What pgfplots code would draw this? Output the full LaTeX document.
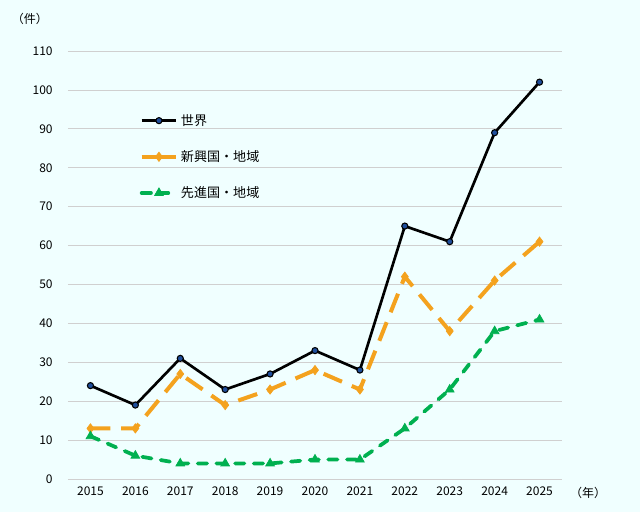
\documentclass[border=0pt]{standalone}
\usepackage{fontspec}
\setmainfont{Noto Sans CJK JP}
\usepackage{pgfplots}
\pgfplotsset{compat=1.18}
\definecolor{bg}{HTML}{F0FFFF}
\definecolor{gridc}{HTML}{D0D0D0}
\definecolor{orangec}{HTML}{F4A21E}
\definecolor{greenc}{HTML}{00B050}
\definecolor{bluec}{HTML}{1F4E9B}
\begin{document}
\begin{tikzpicture}
\fill[bg] (0pt,0pt) rectangle (480pt,384pt);
\begin{axis}[
  at={(51pt,24.75pt)}, anchor=south west,
  scale only axis, width=370.5pt, height=321pt,
  xmin=2014.5, xmax=2025.5, ymin=0, ymax=110,
  xtick={2015,...,2025}, ytick={0,10,...,110},
  xticklabel style={/pgf/number format/1000 sep={}},
  /pgf/number format/assume math mode=true,
  axis line style={draw=none},
  major tick length=0pt,
  ymajorgrids, grid style={gridc, line width=0.6pt},
  tick label style={font=\fontsize{9}{10}\selectfont},
  yticklabel style={xshift=-8pt},
  xticklabel style={yshift=-2pt},
  clip=false,
  legend style={at={(axis cs:2016,95.2)}, anchor=north west, draw=none, fill=none,
    font=\fontsize{9.8}{10}\selectfont, row sep=13.4pt,
    /tikz/every even column/.append style={column sep=0pt}},
  legend cell align=left,
  legend image code/.code={\draw[#1] (0pt,0pt) -- (13pt,0pt) (13pt,0pt) -- (26pt,0pt); \path[#1,solid] plot coordinates {(13pt,0pt)};},
]
\addplot[black, line width=2pt, mark=*, mark size=2.3pt, mark options={fill=bluec, draw=black, line width=0.8pt}]
coordinates {(2015,24)(2016,19)(2017,31)(2018,23)(2019,27)(2020,33)(2021,28)(2022,65)(2023,61)(2024,89)(2025,102)};
\addlegendentry{世界}
\addplot[orangec, line width=3pt, dash pattern=on 15pt off 8pt, mark=diamond*, mark size=3.5pt, mark options={solid, line width=0.5pt}]
coordinates {(2015,13)(2016,13)(2017,27)(2018,19)(2019,23)(2020,28)(2021,23)(2022,52)(2023,38)(2024,51)(2025,61)};
\addlegendentry{新興国・地域}
\addplot[greenc, line width=2.8pt, line cap=round, dash pattern=on 7pt off 7pt, mark=triangle*, mark size=3.8pt, mark options={solid, line width=0.5pt}]
coordinates {(2015,11)(2016,6)(2017,4)(2018,4)(2019,4)(2020,5)(2021,5)(2022,13)(2023,23)(2024,38)(2025,41)};
\addlegendentry{先進国・地域}
\end{axis}
\node[font=\fontsize{9}{10}\selectfont] at (22.5pt,370pt) {（件）};
\node[font=\fontsize{9}{10}\selectfont] at (441pt,14pt) {（年）};
\end{tikzpicture}
\end{document}
